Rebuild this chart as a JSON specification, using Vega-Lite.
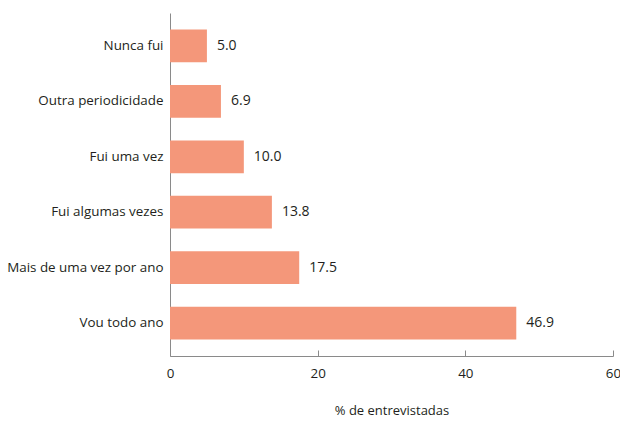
{
  "$schema": "https://vega.github.io/schema/vega-lite/v6.json",
  "width": 443,
  "height": 343,
  "autosize": {"type": "none"},
  "padding": {"left": 170, "top": 13, "right": 7, "bottom": 66},
  "background": "white",
  "config": {"view": {"stroke": null}, "font": "Open Sans"},
  "data": {"values": [
    {"cat": "Nunca fui", "v": 5.0},
    {"cat": "Outra periodicidade", "v": 6.9},
    {"cat": "Fui uma vez", "v": 10.0},
    {"cat": "Fui algumas vezes", "v": 13.8},
    {"cat": "Mais de uma vez por ano", "v": 17.5},
    {"cat": "Vou todo ano", "v": 46.9}
  ]},
  "encoding": {
    "y": {"field": "cat", "type": "nominal", "sort": null,
      "scale": {"paddingInner": 0.41, "paddingOuter": 0.3},
      "axis": {"title": null, "ticks": false, "domainColor": "#8a8a8a", "labelColor": "#231f20", "labelFontSize": 13.4, "labelPadding": 7, "labelFont": "Open Sans"}},
    "x": {"field": "v", "type": "quantitative",
      "scale": {"domain": [0, 60]},
      "axis": {"values": [0, 20, 40, 60], "grid": false, "labelFlush": false, "title": "% de entrevistadas", "titleFontWeight": "normal", "titleFontSize": 13, "titleColor": "#231f20", "titlePadding": 25, "domainColor": "#8a8a8a", "tickColor": "#8a8a8a", "tickSize": -6, "labelColor": "#231f20", "labelFontSize": 13.4, "labelPadding": 16}}
  },
  "layer": [
    {"mark": {"type": "bar", "color": "#F4977A"}},
    {"mark": {"type": "text", "align": "left", "dx": 10, "fontSize": 14, "color": "#231f20"},
     "encoding": {"text": {"field": "v", "type": "quantitative", "format": ".1f"}}}
  ]
}
